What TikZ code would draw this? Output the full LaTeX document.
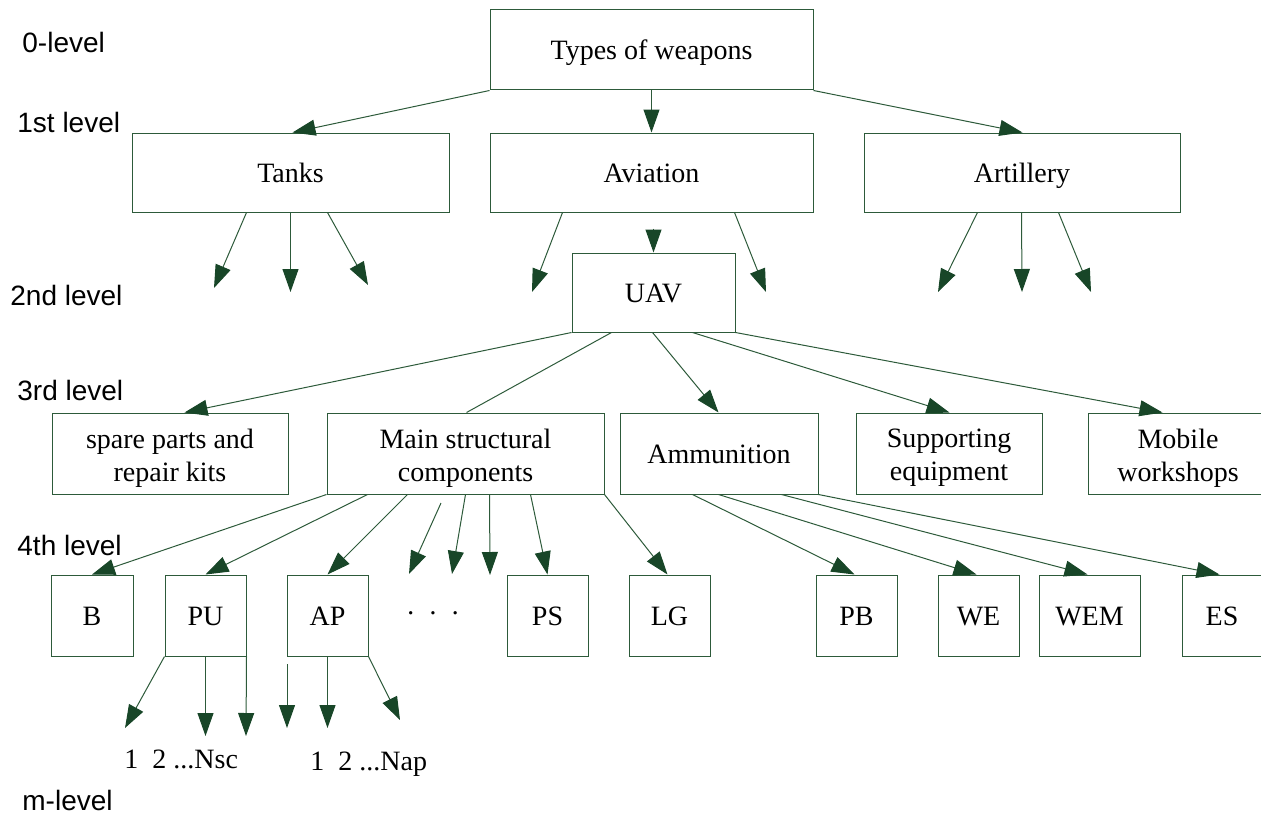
\documentclass[tikz,border=0pt]{standalone}
\usepackage{fontspec}
\setmainfont{Liberation Serif}
\newfontfamily\lvlfont{Liberation Sans}
\usetikzlibrary{arrows.meta,calc,fit}
\definecolor{linec}{RGB}{45,90,58}
\definecolor{headc}{RGB}{24,70,40}
\begin{document}
\begin{tikzpicture}[x=0.5pt,y=-0.5pt,
  box/.style={draw=linec,line width=0.5pt,inner sep=0pt},
  lab/.style={inner sep=0pt,align=center,font=\fontsize{14}{16.5}\selectfont,text height=13pt,text depth=3pt},
  labm/.style={inner sep=0pt,align=center,font=\fontsize{14}{16.5}\selectfont,yshift=-2.25pt},
  lvl/.style={anchor=west,inner sep=0pt,font=\lvlfont\fontsize{14}{16}\selectfont},
  arr/.style={draw=linec,line width=0.5pt,-{Triangle[length=11.5pt,width=8pt,color=headc]}},
  ln/.style={draw=linec,line width=0.5pt},
  txt/.style={inner sep=0pt,font=\fontsize{14}{16.5}\selectfont}]
\useasboundingbox (0,0) rectangle (1261,813);

% level labels
\node[lvl] (l0) at (22,42) {0-level};
\node[lvl] (l1) at (17,122) {1st level};
\node[lvl] (l2) at (10,295) {2nd level};
\node[lvl] (l3) at (17,390) {3rd level};
\node[lvl] (l4) at (17,545) {4th level};
\node[lvl] (lm) at (22,800) {m-level};

% boxes
\node[box,fit={(490,10)(813,90)},label={[lab]center:Types of weapons}] (types) {};
\node[box,fit={(132,133)(449,212)},label={[lab]center:Tanks}] (tanks) {};
\node[box,fit={(490,133)(813,212)},label={[lab]center:Aviation}] (avia) {};
\node[box,fit={(864,133)(1180,212)},label={[lab]center:Artillery}] (art) {};
\node[box,fit={(572,253)(735,332)},label={[lab]center:UAV}] (uav) {};
\node[box,fit={(52,413)(288,494)},label={[labm]center:spare parts and\\repair kits}] (spare) {};
\node[box,fit={(327,413)(604,494)},label={[labm]center:Main structural\\components}] (msc) {};
\node[box,fit={(620,413)(818,494)},label={[lab]center:Ammunition}] (ammo) {};
\node[box,fit={(856,413)(1042,494)},label={[labm]center:Supporting\\equipment}] (supp) {};
\node[box,fit={(1088,413)(1268,494)},label={[labm]center:Mobile\\workshops}] (mob) {};
\node[box,fit={(51,575)(133,656)},label={[lab]center:B}] (B) {};
\node[box,fit={(165,575)(246,656)},label={[lab]center:PU}] (PU) {};
\node[box,fit={(287,575)(368,656)},label={[lab]center:AP}] (AP) {};
\node[box,fit={(507,575)(588,656)},label={[lab]center:PS}] (PS) {};
\node[box,fit={(629,575)(710,656)},label={[lab]center:LG}] (LG) {};
\node[box,fit={(816,575)(897,656)},label={[lab]center:PB}] (PB) {};
\node[box,fit={(938,575)(1019,656)},label={[lab]center:WE}] (WE) {};
\node[box,fit={(1039,575)(1140,656)},label={[lab]center:WEM}] (WEM) {};
\node[box,fit={(1182,575)(1262,656)},label={[lab]center:ES}] (ES) {};

\node[txt] (dots) at (433,617) {·\hspace{6.5pt}·\hspace{6.5pt}·};
\node[txt,anchor=base west] (nsc) at (124,768) {1\ \ 2 ...Nsc};
\node[txt,anchor=base west] (nap) at (310,770) {1\ \ 2 ...Nap};

% free ends
\coordinate (t1) at (214,288);
\coordinate (t2) at (290.5,292);
\coordinate (t3) at (368,285);
\coordinate (a1) at (532,292);
\coordinate (a3) at (766,292);
\coordinate (r1) at (938,292);
\coordinate (r2) at (1022,292);
\coordinate (r3) at (1091,292);
\coordinate (d1s) at (441,503);
\coordinate (d1) at (409,574);
\coordinate (d2) at (452,574);
\coordinate (d3) at (490,575);
\coordinate (p1) at (125,728);
\coordinate (p2) at (205.5,736);
\coordinate (p3) at (246,736);
\coordinate (q1s) at (287,664);
\coordinate (q1) at (287,728);
\coordinate (q2) at (327.5,728);
\coordinate (q3) at (400,720);
\coordinate (uavin) at ($(uav.north)+(0,-24)$);

% level 0 -> 1
\draw[arr] (types.south west) -- ($(tanks.north west)+(161,0)$);
\draw[arr] (types.south) -- (avia.north);
\draw[arr] (types.south east) -- ($(art.north west)+(159,0)$);

% level 1 -> 2
\draw[arr] ($(tanks.south west)+(115,0)$) -- (t1);
\draw[arr] (tanks.south) -- (t2);
\draw[arr] ($(tanks.south west)+(196,0)$) -- (t3);
\draw[arr] ($(avia.south west)+(73,0)$) -- (a1);
\draw[arr] (uavin) -- (uav.north);
\draw[arr] ($(avia.south west)+(245,0)$) -- (a3);
\draw[arr] ($(art.south west)+(114,0)$) -- (r1);
\draw[arr] ($(art.south west)+(158,0)$) -- (r2);
\draw[arr] ($(art.south west)+(195,0)$) -- (r3);

% level 2 -> 3
\draw[arr] (uav.south west) -- ($(spare.north west)+(133,0)$);
\draw[ln] ($(uav.south west)+(40,0)$) -- ($(msc.north west)+(140,0)$);
\draw[arr] ($(uav.south west)+(81,0)$) -- ($(ammo.north west)+(99,0)$);
\draw[arr] ($(uav.south west)+(121,0)$) -- ($(supp.north west)+(94,0)$);
\draw[arr] (uav.south east) -- ($(mob.north west)+(75,0)$);

% level 3 -> 4
\draw[arr] (msc.south west) -- (B.north);
\draw[arr] ($(msc.south west)+(41,0)$) -- (PU.north);
\draw[arr] ($(msc.south west)+(81,0)$) -- (AP.north);
\draw[arr] (d1s) -- (d1);
\draw[arr] ($(msc.south west)+(139,0)$) -- (d2);
\draw[arr] ($(msc.south west)+(163,0)$) -- (d3);
\draw[arr] ($(msc.south west)+(204,0)$) -- (PS.north);
\draw[arr] (msc.south east) -- ($(LG.north west)+(39,0)$);
\draw[arr] ($(ammo.south west)+(73,0)$) -- ($(PB.north west)+(39,0)$);
\draw[arr] ($(ammo.south west)+(99,0)$) -- ($(WE.north west)+(39,0)$);
\draw[arr] ($(ammo.south west)+(162,0)$) -- ($(WEM.north west)+(49,0)$);
\draw[arr] (ammo.south east) -- ($(ES.north west)+(38,0)$);

% level 4 -> m
\draw[arr] (PU.south west) -- (p1);
\draw[arr] (PU.south) -- (p2);
\draw[arr] (PU.south east) -- (p3);
\draw[arr] (q1s) -- (q1);
\draw[arr] (AP.south) -- (q2);
\draw[arr] (AP.south east) -- (q3);
\end{tikzpicture}
\end{document}
